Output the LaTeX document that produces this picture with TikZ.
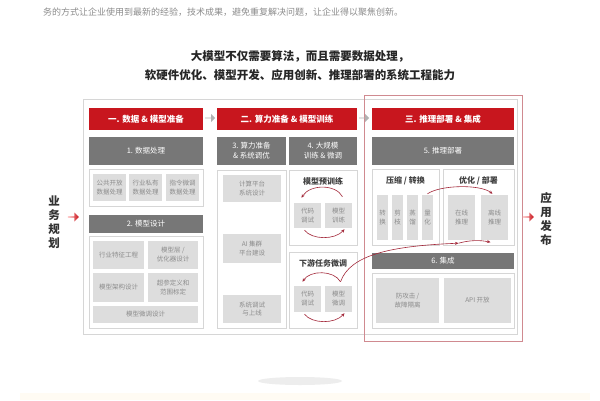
\documentclass[tikz,border=0pt]{standalone}
\usepackage{fontspec}
\setmainfont{Noto Sans CJK SC}
\usetikzlibrary{arrows.meta,shapes.arrows,calc}
\definecolor{hred}{HTML}{C8161E}
\definecolor{bargray}{HTML}{777777}
\definecolor{itemgray}{HTML}{DDDDDD}
\definecolor{itemtext}{HTML}{8C8C8C}
\definecolor{framegray}{HTML}{D6D6D6}
\definecolor{cycred}{HTML}{A3283A}
\definecolor{redframe}{HTML}{D08A90}
\definecolor{beige}{HTML}{FFFBF3}
\begin{document}
\begin{tikzpicture}[x=1pt,y=-1pt,
 wh/.style 2 args={minimum width=#1pt, minimum height=#2pt},
 hdr/.style={fill=hred, text=white, font=\fontsize{8.5}{10}\selectfont\bfseries, inner sep=0pt, align=center},
 bar/.style={fill=bargray, text=white, font=\fontsize{7.5}{10}\selectfont, inner sep=0pt, align=center},
 frm/.style={draw=framegray, fill=white, line width=0.8pt, inner sep=0pt},
 itm/.style={fill=itemgray, text=itemtext, font=\fontsize{6.5}{9}\selectfont, inner sep=0pt, align=center},
 ttl/.style={text=black!75, font=\fontsize{8}{10}\selectfont\bfseries, inner sep=0pt},
 cyc/.style={draw=cycred, line width=0.6pt, -{Stealth[length=3.5pt,width=3pt]}},
 garr/.style={single arrow, fill=black!30, minimum height=10pt, minimum width=8pt, single arrow head extend=1.5pt, inner sep=0pt},
 rarr/.style={single arrow, left color=red!30, right color=hred, minimum height=11pt, minimum width=9pt, single arrow head extend=1.5pt, inner sep=0pt},
 vtxt/.style={text=black!80, font=\fontsize{11.5}{14}\selectfont\bfseries, align=center, inner sep=0pt},
]
\useasboundingbox (0,0) rectangle (600,400);
\fill[white] (0,0) rectangle (600,400);
\fill[beige] (20,393) rectangle (590,400);
\fill[black!7] (300,381) ellipse [x radius=42pt, y radius=4pt];

% texts at top
\node[anchor=west, text=black!45, font=\fontsize{9}{11}\selectfont, inner sep=0pt] (intro) at (43,12) {务的方式让企业使用到最新的经验，技术成果，避免重复解决问题，让企业得以聚焦创新。};
\node[font=\fontsize{11.5}{14}\selectfont\bfseries, text=black!85, inner sep=0pt] (title1) at (300,56) {大模型不仅需要算法，而且需要数据处理，};
\node[font=\fontsize{11.5}{14}\selectfont\bfseries, text=black!85, inner sep=0pt] (title2) at (300,75) {软硬件优化、模型开发、应用创新、推理部署的系统工程能力};

% frames
\node[draw=framegray, fill=white, line width=0.8pt, inner sep=0pt, wh={434}{235}] (outer) at (300,216.5) {};
\node[draw=redframe, line width=0.8pt, inner sep=0pt, wh={158}{246}] (redbox) at (443,218) {};

% column 1
\node[hdr, wh={114}{22}] (h1) at (146,119) {一. 数据 \& 模型准备};
\node[bar, wh={114}{28}] (g1) at (146,151) {1. 数据处理};
\node[frm, wh={114}{37}] (f1) at (146,187.5) {};
\node[itm, wh={33}{27}] (a1) at (109.5,187.5) {公共开放\\数据处理};
\node[itm, wh={33}{27}] (a2) at (145.5,187.5) {行业私有\\数据处理};
\node[itm, wh={33}{27}] (a3) at (182.5,187.5) {指令微调\\数据处理};
\node[bar, wh={114}{18}] (g2) at (146,224) {2. 模型设计};
\node[frm, wh={114}{92}] (f2) at (146,282) {};
\node[itm, wh={51}{28}] (b1) at (118.5,255) {行业特征工程};
\node[itm, wh={50}{28}] (b2) at (173,255) {模型层 /\\优化器设计};
\node[itm, wh={51}{29}] (b3) at (118.5,287.5) {模型架构设计};
\node[itm, wh={50}{29}] (b4) at (173,287.5) {超参定义和\\范围标定};
\node[itm, wh={105}{17}] (b5) at (145.5,314.5) {模型微调设计};

% column 2
\node[hdr, wh={140}{22}] (h2) at (287,119) {二. 算力准备 \& 模型训练};
\node[bar, wh={69}{28}] (g3) at (251.5,151) {3. 算力准备\\\& 系统调优};
\node[bar, wh={68}{28}] (g4) at (323,151) {4. 大规模\\训练 \& 微调};
\node[frm, wh={69}{158}] (f3) at (251.5,249) {};
\node[itm, wh={58}{27}] (c1) at (252,188.5) {计算平台\\系统设计};
\node[itm, wh={58}{29}] (c2) at (252,248.5) {AI 集群\\平台建设};
\node[itm, wh={58}{28}] (c3) at (252,309) {系统调试\\与上线};
\node[frm, wh={68}{75}] (f4) at (323,207.5) {};
\node[ttl] (t4) at (323,181) {模型预训练};
\node[itm, wh={27}{25}] (pa) at (307.5,215.5) {代码\\调试};
\node[itm, wh={27}{25}] (pb) at (338.5,215.5) {模型\\训练};
\node[frm, wh={68}{76}] (f5) at (323,290) {};
\node[ttl] (t5) at (323,263) {下游任务微调};
\node[itm, wh={27}{26}] (pc) at (307.5,299) {代码\\调试};
\node[itm, wh={27}{26}] (pd) at (338.5,299) {模型\\微调};

% column 3
\node[hdr, wh={142}{22}] (h3) at (443,119) {三. 推理部署 \& 集成};
\node[bar, wh={142}{28}] (g5) at (443,151) {5. 推理部署};
\node[frm, wh={67}{76}] (f6) at (405.5,207) {};
\node[ttl] (t6) at (405.5,181) {压缩 / 转换};
\node[itm, wh={11}{45}] (zh) at (382.5,217.5) {转\\换};
\node[itm, wh={11}{45}] (jz) at (397.5,217.5) {剪\\枝};
\node[itm, wh={11}{45}] (zl) at (412.5,217.5) {蒸\\馏};
\node[itm, wh={11}{45}] (lh) at (427.5,217.5) {量\\化};
\node[frm, wh={71}{76}] (f7) at (478.5,207) {};
\node[ttl] (t7) at (478.5,181) {优化 / 部署};
\node[itm, wh={27}{45}] (zx) at (461.5,217.5) {在线\\推理};
\node[itm, wh={27}{45}] (lx) at (494.5,217.5) {离线\\推理};
\node[bar, wh={142}{16}] (g6) at (443,261) {6. 集成};
\node[frm, wh={142}{55}] (f8) at (443,300.5) {};
\node[itm, wh={63}{45}] (d1) at (407.5,300.5) {防攻击 /\\故障隔离};
\node[itm, wh={67}{45}] (d2) at (477.5,300.5) {API 开放};

% block arrows
\node[garr] (ar1) at (210,118) {};
\node[garr] (ar2) at (364,118) {};
\node[rarr] (ra1) at (73,217) {};
\node[rarr] (ra2) at (528,217) {};
\node[vtxt] (left) at (54,222) {业\\务\\规\\划};
\node[vtxt] (right) at (546,219) {应\\用\\发\\布};

% cycle arrows
\draw[cyc] ($(pb.north)+(4,-6)$) .. controls (336,184) and (310,184) .. ($(pa.north)+(-6,-5)$);
\draw[cyc] ($(pa.south)+(-3,2)$) .. controls (312,240) and (335,240) .. ($(pb.south)+(6,1)$);
\draw[cyc] ($(pd.north)+(2,-4)$) .. controls (334,270) and (310,270) .. ($(pc.north)+(-5,-4)$);
\draw[cyc] ($(pc.south)+(-3,2)$) .. controls (312,324) and (335,324) .. ($(pd.south)+(6,1)$);
\draw[cyc] ($(pd.north)+(2,-4)$) .. controls (350,255) and (390,246) .. ($(zx.south)+(-3,3)$);
\draw[cyc] ($(zx.south)+(-3,3)$) .. controls (470,240) and (480,240) .. ($(lx.south)+(-4,2)$);
\draw[cyc] ($(lh.north)+(0,-1)$) .. controls (440,185) and (480,184) .. ($(lx.north)+(-2,-1)$);
\end{tikzpicture}
\end{document}
